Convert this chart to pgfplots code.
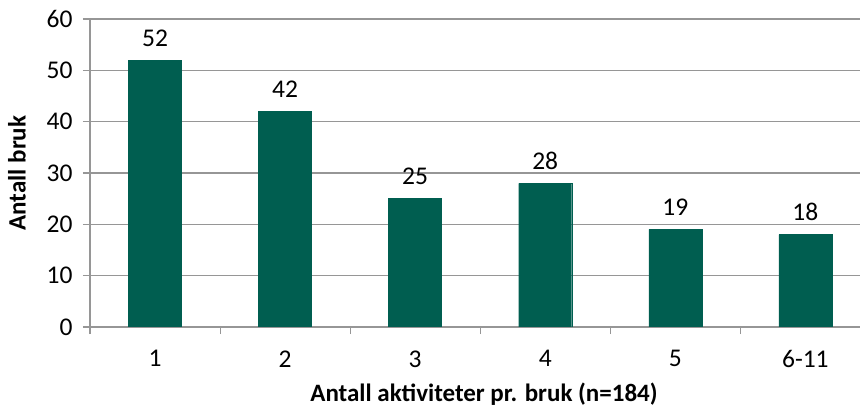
\documentclass[border=0pt]{standalone}
\usepackage{pgfplots}
\pgfplotsset{compat=1.18}
\usepackage{fontspec}
\setmainfont{Carlito}
\definecolor{bargreen}{RGB}{0,94,80}
\definecolor{gridgray}{RGB}{150,150,150}
\begin{document}
\begin{tikzpicture}
\begin{axis}[
  scale only axis,
  width=770pt, height=308pt,
  ybar, bar width=53pt,
  xmin=-0.5, xmax=5.42,
  ymin=0, ymax=60,
  ytick={0,10,...,60},
  xtick={-0.5,0.5,1.5,2.5,3.5,4.5},
  xticklabels={},
  extra x ticks={0,1,2,3,4,5},
  extra x tick labels={1,2,3,4,5,6-11},
  extra x tick style={tick style={draw=none}},
  axis lines=left,
  axis line style={-, draw=gridgray, line width=1.2pt},
  ymajorgrids,
  grid style={draw=gridgray, line width=1.1pt},
  tick align=outside,
  major tick length=7pt,
  tick style={draw=gridgray, line width=1.1pt},
  tick label style={font=\fontsize{25.5}{30}\selectfont},
  /pgf/number format/assume math mode=true,
  yticklabel style={xshift=-7pt},
  xticklabel style={yshift=-13pt},
  ylabel={\bfseries Antall bruk},
  xlabel={\bfseries Antall aktiviteter pr. bruk (n=184)},
  label style={font=\fontsize{25}{30}\selectfont},
  xlabel style={yshift=-1pt, xshift=9pt},
  ylabel style={yshift=14pt},
  nodes near coords,
  every node near coord/.append style={font=\fontsize{25.5}{30}\selectfont, black, yshift=10pt},
]
\addplot[fill=bargreen, draw=bargreen] coordinates {(0,52) (1,42) (2,25) (3,28) (4,19) (5,18)};
\end{axis}
\pgfresetboundingbox
\useasboundingbox (-90pt,-85pt) rectangle (772pt,327pt);
\end{tikzpicture}
\end{document}
